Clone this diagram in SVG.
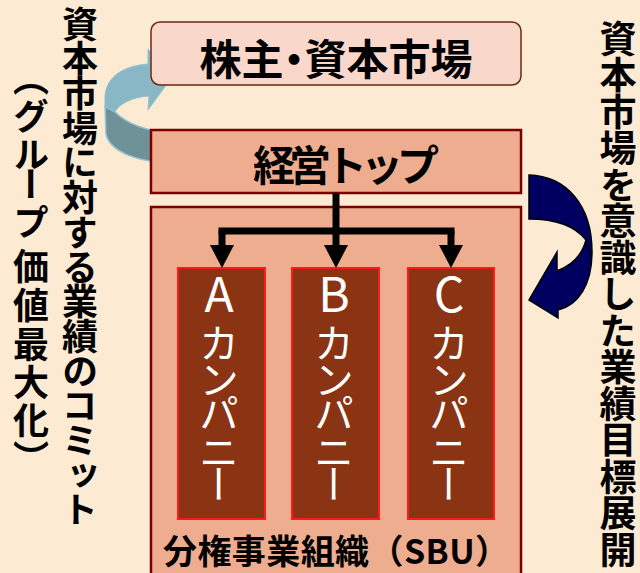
<svg xmlns="http://www.w3.org/2000/svg" width="640" height="573" viewBox="0 0 640 573">
<style>
.jp{font-family:"Noto Sans CJK JP","Noto Sans",sans-serif;font-weight:bold;fill:#000}
.vt{writing-mode:vertical-rl;text-orientation:upright}
.co{font-family:"Noto Sans CJK JP","Noto Sans",sans-serif;font-weight:normal;fill:#fff;font-size:40px}
.cbox{fill:#8A3414;stroke:#FF1A1A;stroke-width:2}
.conn{stroke:#000;stroke-width:7;fill:none}
</style>
<defs>
<marker id="ah" markerUnits="userSpaceOnUse" markerWidth="23" markerHeight="24" viewBox="0 0 23 24" refX="5" refY="12" orient="auto">
<path d="M0,0 L23,12 L0,24 Z" fill="#000"/>
</marker>
</defs>
<rect width="640" height="573" fill="#FCEAD2"/>

<g id="left-arrow">
<path d="M105,106 L115,112 C127,124 148,131 171,133 L171,163 C138,162 110,152 106,134 Z" fill="#6F9299" stroke="#8FC3D2" stroke-width="1.5"/>
<path d="M105,107 L105,100 C104,78 122,66 148,64 L148,49 L172,77 L148,110 L149,96 C132,97 119,104 115,112 Z" fill="#89B7C5" stroke="#8FC3D2" stroke-width="1"/>
</g>

<g id="right-arrow">
<path d="M529,175 C566,176 592,205 592,252 C592,285 578,305 558,310 L558,318 L529,300 L557,252 L557,271 C570,266 582,256 586,240 C575,226 555,219 529,219 Z" fill="#000060" stroke="#000" stroke-width="1.5"/>
<path d="M585,238 C589,246 591,254 591,262" fill="none" stroke="#000" stroke-width="1"/>
</g>

<g id="shareholders">
<rect x="151" y="22" width="370" height="63" rx="9" fill="#F9D7CB" stroke="#6B2A12" stroke-width="1.5"/>
<text class="jp" x="336" y="75" font-size="42" text-anchor="middle" style="font-feature-settings:'palt'">株主・資本市場</text>
</g>

<g id="top-management">
<rect x="151" y="130" width="370" height="63" fill="#EEAD8F" stroke="#7A0000" stroke-width="2.5"/>
<text class="jp" x="346" y="181" font-size="42" text-anchor="middle" textLength="186" lengthAdjust="spacing">経営トップ</text>
</g>

<g id="sbu">
<rect x="151" y="207" width="370" height="375" fill="#EEAD8F" stroke="#7A0000" stroke-width="2.5"/>
<text class="jp" x="336" y="564" font-size="34" text-anchor="middle" textLength="346" lengthAdjust="spacing">分権事業組織（SBU）</text>
</g>

<g id="company-a">
<rect class="cbox" x="178" y="268" width="87" height="251"/>
<text class="co vt" x="219"><tspan y="270" font-size="48">A</tspan><tspan y="323 359 393 432 464">カンパニー</tspan></text>
</g>
<g id="company-b">
<rect class="cbox" x="292" y="268" width="87" height="251"/>
<text class="co vt" x="334"><tspan y="270" font-size="48">B</tspan><tspan y="323 359 393 432 464">カンパニー</tspan></text>
</g>
<g id="company-c">
<rect class="cbox" x="408" y="268" width="86" height="251"/>
<text class="co vt" x="449"><tspan y="270" font-size="48">C</tspan><tspan y="323 359 393 432 464">カンパニー</tspan></text>
</g>

<g id="connectors">
<path class="conn" d="M222,231 H451" stroke-linecap="square"/>
<path class="conn" d="M336,193 V250" marker-end="url(#ah)"/>
<path class="conn" d="M222,231 V250" marker-end="url(#ah)"/>
<path class="conn" d="M451,231 V250" marker-end="url(#ah)"/>
</g>

<g id="left-labels">
<text class="jp vt" x="80" y="6 40.7 75.4 110.1 144.8 179.5 214.2 248.9 283.6 318.3 353 387.7 422.4 457.1 491.8" font-size="36">資本市場に対する業績のコミット</text>
<text class="jp vt" x="31" y="60 98 136 166 204 248 287 326 364 402 440" font-size="36">（グループ価値最大化）</text>
</g>
<g id="right-label">
<text class="jp vt" x="618" y="20 56.5 93 129.5 166 202.5 239 275.5 312 348.5 385 421.5 458 494.5 531" font-size="37">資本市場を意識した業績目標展開</text>
</g>
</svg>
